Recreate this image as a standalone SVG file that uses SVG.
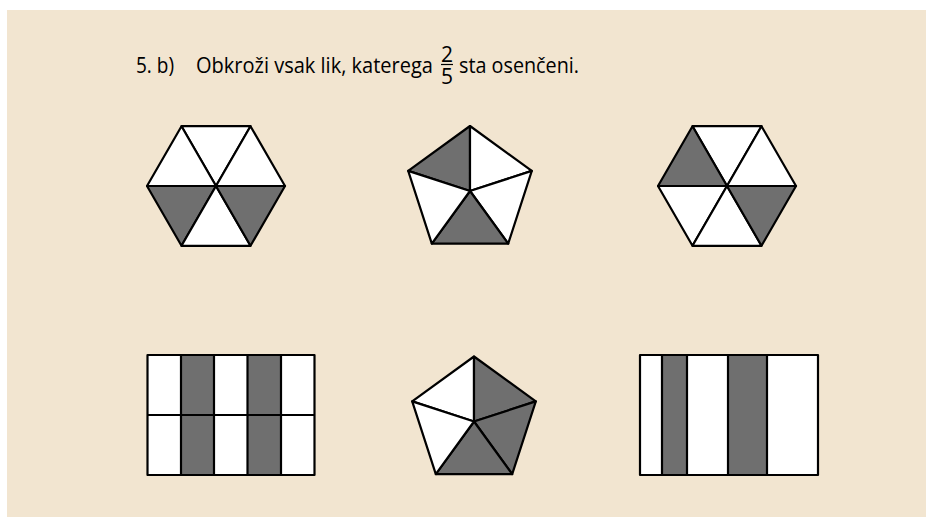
<svg xmlns="http://www.w3.org/2000/svg" width="926" height="517" viewBox="0 0 926 517">
<style>
.bg{fill:#F2E5D0}
.w{fill:#FFFFFF;stroke:#000;stroke-width:2.2;stroke-linejoin:round}
.g{fill:#6F6F6F;stroke:#000;stroke-width:2.2;stroke-linejoin:round}
.t{font-family:"Open Sans","Liberation Sans",sans-serif;font-size:22px;fill:#000}
.f{font-family:"Open Sans","Liberation Sans",sans-serif;font-size:21px;fill:#000}
</style>
<rect class="bg" x="7" y="10" width="919" height="507"/>
<g id="title">
<text class="t" x="136" y="73" textLength="38" lengthAdjust="spacingAndGlyphs">5. b)</text>
<text class="t" x="196" y="73" textLength="237" lengthAdjust="spacingAndGlyphs">Obkroži vsak lik, katerega</text>
<text class="f" x="447" y="61.5" text-anchor="middle">2</text>
<line x1="441" y1="64.5" x2="453" y2="64.5" stroke="#000" stroke-width="1.2"/>
<text class="f" x="447" y="83.5" text-anchor="middle">5</text>
<text class="t" x="459" y="73" textLength="120" lengthAdjust="spacingAndGlyphs">sta osenčeni.</text>
</g>
<g id="hexagon1">
<polygon class="w" points="216,186 181.5,126.2 250.5,126.2"/>
<polygon class="w" points="216,186 147,186 181.5,126.2"/>
<polygon class="w" points="216,186 250.5,126.2 285,186"/>
<polygon class="g" points="216,186 147,186 181.5,245.8"/>
<polygon class="w" points="216,186 181.5,245.8 250.5,245.8"/>
<polygon class="g" points="216,186 250.5,245.8 285,186"/>
</g>
<g id="pentagon1">
<polygon class="g" points="470,191 470,126 408.2,170.9"/>
<polygon class="w" points="470,191 470,126 531.8,170.9"/>
<polygon class="w" points="470,191 531.8,170.9 508.2,243.6"/>
<polygon class="g" points="470,191 508.2,243.6 431.8,243.6"/>
<polygon class="w" points="470,191 431.8,243.6 408.2,170.9"/>
</g>
<g id="hexagon2">
<polygon class="w" points="727,186 692.5,126.2 761.5,126.2"/>
<polygon class="g" points="727,186 658,186 692.5,126.2"/>
<polygon class="w" points="727,186 761.5,126.2 796,186"/>
<polygon class="w" points="727,186 658,186 692.5,245.8"/>
<polygon class="w" points="727,186 692.5,245.8 761.5,245.8"/>
<polygon class="g" points="727,186 761.5,245.8 796,186"/>
</g>
<g id="rectangle1">
<rect class="w" x="147.5" y="355" width="167" height="120"/>
<rect class="g" x="181" y="355" width="33" height="120"/>
<rect class="g" x="247.5" y="355" width="33.5" height="120"/>
<line x1="147.5" y1="415" x2="314.5" y2="415" stroke="#000" stroke-width="2.2"/>
</g>
<g id="pentagon2">
<polygon class="w" points="474,421.5 474,356.5 412.2,401.4"/>
<polygon class="g" points="474,421.5 474,356.5 535.8,401.4"/>
<polygon class="g" points="474,421.5 535.8,401.4 512.2,474.1"/>
<polygon class="g" points="474,421.5 512.2,474.1 435.8,474.1"/>
<polygon class="w" points="474,421.5 435.8,474.1 412.2,401.4"/>
</g>
<g id="rectangle2">
<rect class="w" x="640" y="355" width="178" height="120"/>
<rect class="g" x="662" y="355" width="25" height="120"/>
<rect class="g" x="728" y="355" width="39" height="120"/>
</g>
</svg>
